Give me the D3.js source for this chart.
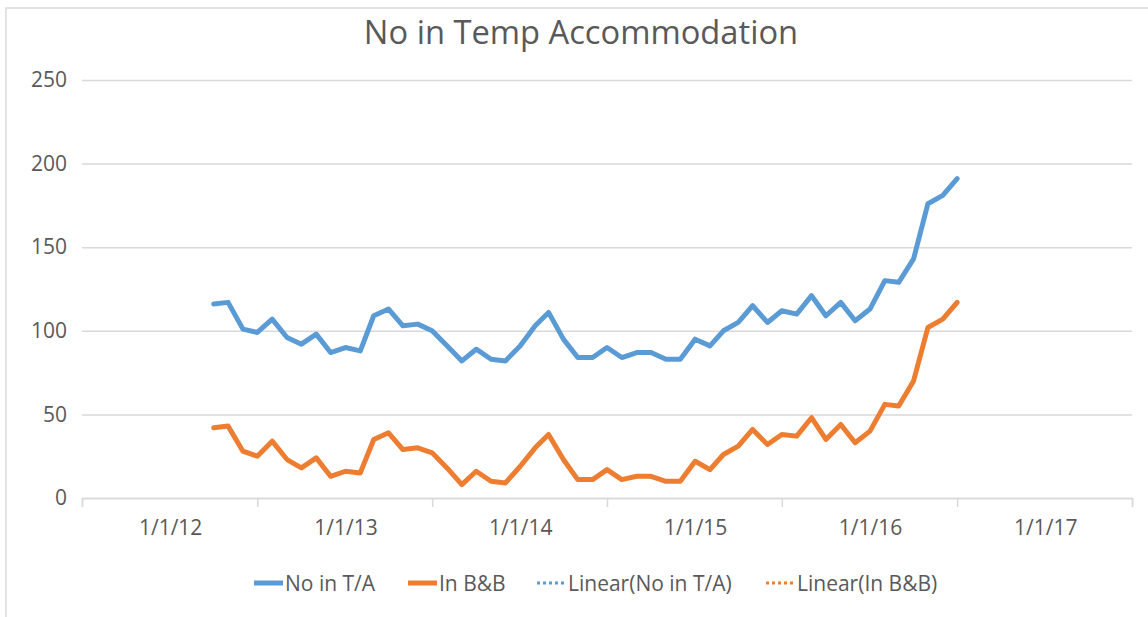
<!DOCTYPE html>
<html>
<head>
<meta charset="utf-8">
<script src="https://cdn.jsdelivr.net/npm/d3@7"></script>
<style>
  body { margin: 0; background: #fff; }
  text { fill: #595959; font-family: 'Open Sans', 'Noto Sans', sans-serif; }
</style>
</head>
<body>
<svg id="chart" width="1148" height="617"></svg>
<script>
// monthly readings, Apr 2012 - Jul 2016
const startMonth = new Date(2012, 3, 1);
const noInTA = [116, 117, 101, 99, 107, 96, 92, 98, 87, 90, 88, 109, 113, 103, 104, 100, 91, 82, 89, 83, 82, 91, 103, 111, 95, 84, 84, 90, 84, 87, 87, 83, 83, 95, 91, 100, 105, 115, 105, 112, 110, 121, 109, 117, 106, 113, 130, 129, 143, 176, 181, 191];
const inBB = [42, 43, 28, 25, 34, 23, 18, 24, 13, 16, 15, 35, 39, 29, 30, 27, 18, 8, 16, 10, 9, 19, 30, 38, 23, 11, 11, 17, 11, 13, 13, 10, 10, 22, 17, 26, 31, 41, 32, 38, 37, 48, 35, 44, 33, 40, 56, 55, 70, 102, 107, 117];
const yTicks = [0, 50, 100, 150, 200, 250];
const labelYears = [2012, 2013, 2014, 2015, 2016, 2017];
const legendNames = ['No in T/A', 'In B&B', 'Linear(No in T/A)', 'Linear(In B&B)'];

const blue = '#5b9bd5';
const orange = '#ed7d31';

const svg = d3.select('#chart');

const months = noInTA.map((d, i) => d3.timeMonth.offset(startMonth, i));

const x = d3
  .scaleTime()
  .domain([new Date(2011, 6, 1), new Date(2017, 6, 1)])
  .range([82, 1132]);

const y = d3.scaleLinear().domain([0, 250]).range([498, 80]);

// chart border (only top/left visible in the screenshot)
svg
  .append('path')
  .attr('d', 'M6,617 L6,8 L1148,8')
  .attr('fill', 'none')
  .attr('stroke', '#d9d9d9')
  .attr('stroke-width', 1.5);

svg
  .append('text')
  .attr('x', 581)
  .attr('y', 44)
  .attr('text-anchor', 'middle')
  .style('font-size', '32.7px')
  .text('No in Temp Accommodation');

// gridlines + y labels
const yAxis = svg
  .append('g')
  .attr('transform', 'translate(82,0)')
  .call(
    d3
      .axisLeft(y)
      .tickValues(yTicks)
      .tickSize(-1050)
      .tickPadding(15)
  );
yAxis.select('.domain').remove();
yAxis
  .selectAll('line')
  .attr('stroke', '#d9d9d9')
  .attr('stroke-width', 1.5);
yAxis.selectAll('text').style('font-size', '21px').attr('fill', '#595959');

// x axis: tick marks at mid-year, labels at 1 Jan
const tickDates = d3.range(2011, 2018).map((yr) => new Date(yr, 6, 1));
const xTicks = svg
  .append('g')
  .attr('transform', 'translate(0,498)')
  .call(d3.axisBottom(x).tickValues(tickDates).tickSize(9).tickFormat(''));
xTicks.selectAll('line, path').attr('stroke', '#d9d9d9').attr('stroke-width', 1.5);

const xLabels = svg
  .append('g')
  .attr('transform', 'translate(0,498)')
  .call(
    d3
      .axisBottom(x)
      .tickValues(labelYears.map((yr) => new Date(yr, 0, 1)))
      .tickSize(0)
      .tickPadding(22)
      .tickFormat((d) => `1/1/${String(d.getFullYear()).slice(2)}`)
  );
xLabels.select('.domain').remove();
xLabels.selectAll('text').style('font-size', '21px').attr('fill', '#595959');

const line = d3
  .line()
  .x((d, i) => x(months[i]))
  .y((d) => y(d));

[
  [noInTA, blue],
  [inBB, orange],
].forEach(([values, color]) => {
  svg
    .append('path')
    .datum(values)
    .attr('d', line)
    .attr('fill', 'none')
    .attr('stroke', color)
    .attr('stroke-width', 5)
    .attr('stroke-linejoin', 'round')
    .attr('stroke-linecap', 'round');
});

// legend
const legendItems = [
  { name: legendNames[0], color: blue, dotted: false, x: 254 },
  { name: legendNames[1], color: orange, dotted: false, x: 408 },
  { name: legendNames[2], color: blue, dotted: true, x: 537 },
  { name: legendNames[3], color: orange, dotted: true, x: 766 },
];

const legend = svg.append('g').attr('transform', 'translate(0,583)');
legendItems.forEach((item) => {
  const g = legend.append('g').attr('transform', `translate(${item.x},0)`);
  g.append('line')
    .attr('x1', 0)
    .attr('x2', 29)
    .attr('y1', 0)
    .attr('y2', 0)
    .attr('stroke', item.color)
    .attr('stroke-width', item.dotted ? 3 : 5)
    .attr('stroke-dasharray', item.dotted ? '3,3' : null);
  g.append('text')
    .attr('x', 31)
    .attr('y', 7.5)
    .style('font-size', '21px')
    .text(item.name);
});
</script>
</body>
</html>
